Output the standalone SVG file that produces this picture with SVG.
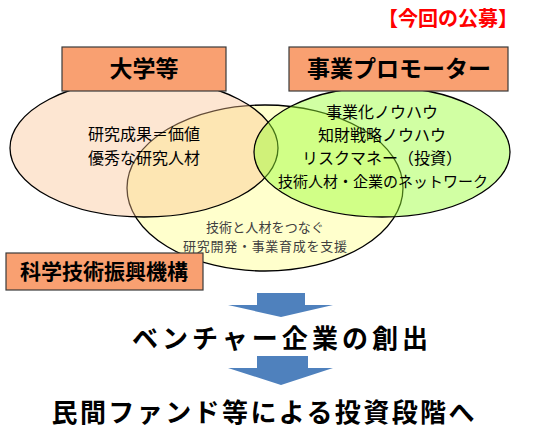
<svg xmlns="http://www.w3.org/2000/svg" width="555" height="433" viewBox="0 0 555 433">
<style>
text{font-family:"Noto Sans CJK JP","Noto Sans",sans-serif;text-anchor:middle}
.lbl{fill:#F9A071;stroke:#3a3a3a;stroke-width:1.2}
.lt{font-weight:bold;font-size:23px;fill:#000}
.body{font-size:16px;fill:#000}
.mid{font-size:13px;fill:#404040}
.big{font-weight:bold;font-size:26px;fill:#000}
.arr{fill:#4F81BD}
</style>
<rect width="555" height="433" fill="#fff"/>
<g id="jst-circle">
<ellipse cx="265" cy="188" rx="138" ry="83" fill="#FFFFCC" stroke="#000" stroke-width="1.3"/>
<text class="mid" x="265" y="232" textLength="118" lengthAdjust="spacing">技術と人材をつなぐ</text>
<text class="mid" x="265" y="251" textLength="164" lengthAdjust="spacing">研究開発・事業育成を支援</text>
</g>
<g id="univ-circle">
<ellipse cx="144" cy="148" rx="134" ry="69" fill="#F9C08E" fill-opacity="0.4" stroke="#000" stroke-width="1.3"/>
<text class="body"><tspan x="144" y="140">研究成果＝価値</tspan><tspan x="144" y="164">優秀な研究人材</tspan></text>
</g>
<g id="promoter-circle">
<ellipse cx="382" cy="152" rx="128" ry="65" fill="#99FF33" fill-opacity="0.45" stroke="#000" stroke-width="1.3"/>
<text class="body"><tspan x="382" y="118">事業化ノウハウ</tspan><tspan x="382" y="141">知財戦略ノウハウ</tspan><tspan x="382" y="164">リスクマネー（投資）</tspan><tspan x="383" y="187" style="font-size:15px">技術人材・企業のネットワーク</tspan></text>
</g>
<g id="univ-label">
<rect class="lbl" x="62" y="47" width="164" height="44"/>
<text class="lt" x="144" y="77">大学等</text>
</g>
<g id="promoter-label">
<rect class="lbl" x="289" y="47" width="219" height="44"/>
<text class="lt" x="399" y="77">事業プロモーター</text>
</g>
<g id="jst-label">
<rect class="lbl" x="6" y="253" width="197" height="37"/>
<text class="lt" x="104" y="279" style="font-size:21px">科学技術振興機構</text>
</g>
<g id="title">
<text x="448" y="26" style="font-weight:bold;font-size:20px;fill:#FF0000">【今回の公募】</text>
</g>
<g id="connectors">
<polygon class="arr" points="257,293 305,293 305,305 333,305 281,317 228,305 257,305"/>
<polygon class="arr" points="257,356 308,356 308,368 333,368 281,385 228,368 257,368"/>
</g>
<g id="venture">
<text class="big" x="280" y="348" textLength="296" lengthAdjust="spacing">ベンチャー企業の創出</text>
</g>
<g id="private-fund">
<text class="big" x="263" y="422" textLength="423" lengthAdjust="spacing">民間ファンド等による投資段階へ</text>
</g>
</svg>
